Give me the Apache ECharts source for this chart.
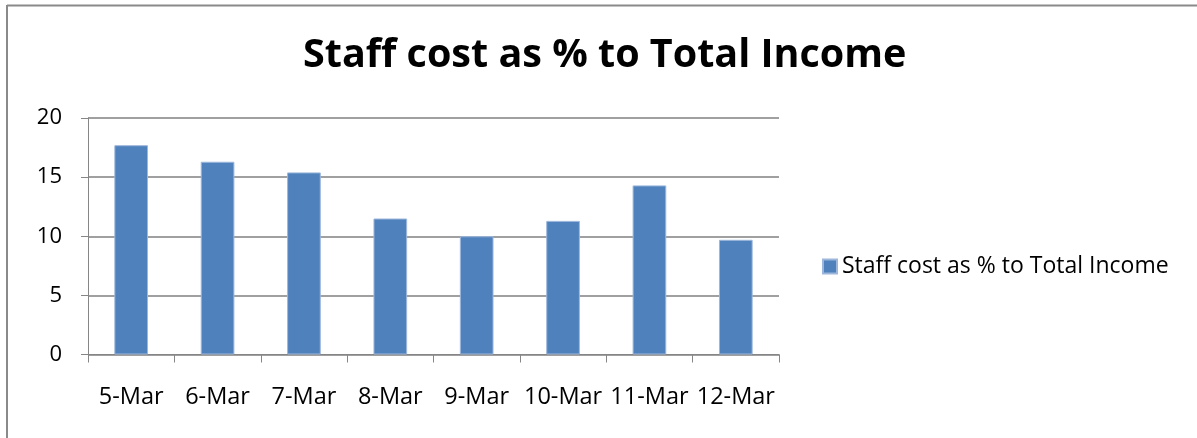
<!DOCTYPE html>
<html>
<head>
<meta charset="utf-8">
<script src="https://cdn.jsdelivr.net/npm/echarts@6/dist/echarts.min.js"></script>
<style>
html,body{margin:0;padding:0;background:#fff;}
#chart{width:1197px;height:438px;}
</style>
</head>
<body>
<div id="chart"></div>
<script>
const categories = ['5-Mar','6-Mar','7-Mar','8-Mar','9-Mar','10-Mar','11-Mar','12-Mar'];
const seriesName = 'Staff cost as % to Total Income';
const values = [17.7, 16.3, 15.4, 11.5, 10.0, 11.3, 14.3, 9.7];
const titleText = 'Staff cost as % to Total Income';
const yTicks = { min: 0, max: 20, interval: 5 };

const chart = echarts.init(document.getElementById('chart'));
const FONT = 'Open Sans';
chart.setOption({
  animation: false,
  backgroundColor: '#fff',
  graphic: [
    { type: 'line', shape: { x1: 7, y1: 5.5, x2: 1197, y2: 5.5 }, style: { stroke: '#8a8a8a', lineWidth: 2 } },
    { type: 'line', shape: { x1: 7, y1: 5, x2: 7, y2: 438 }, style: { stroke: '#8a8a8a', lineWidth: 2 } }
  ],
  title: {
    text: titleText,
    left: 298,
    top: 31,
    padding: 5,
    textStyle: { fontFamily: FONT, fontWeight: 'bold', fontSize: 39.5, color: '#000' }
  },
  legend: {
    data: [seriesName],
    orient: 'vertical',
    left: 817,
    top: 250,
    itemWidth: 14,
    itemHeight: 14,
    icon: 'rect',
    textStyle: { fontFamily: FONT, fontSize: 23, color: '#000' }
  },
  grid: { left: 88, right: 418, top: 118, bottom: 83.5, containLabel: false },
  xAxis: {
    type: 'category',
    data: categories,
    axisLine: { lineStyle: { color: '#868686', width: 1 } },
    axisTick: { show: true, length: 8, alignWithLabel: false, lineStyle: { color: '#868686' } },
    axisLabel: { fontFamily: FONT, fontSize: 23.5, color: '#000', margin: 31, interval: 0 }
  },
  yAxis: {
    type: 'value',
    min: yTicks.min, max: yTicks.max, interval: yTicks.interval,
    axisLine: { show: true, lineStyle: { color: '#868686', width: 1 } },
    axisTick: { show: true, length: 7, lineStyle: { color: '#868686' } },
    axisLabel: { fontFamily: FONT, fontSize: 22, color: '#000', margin: 26 },
    splitLine: { show: true, lineStyle: { color: '#808080', width: 1.5 } }
  },
  series: [{
    name: seriesName,
    type: 'bar',
    data: values,
    barCategoryGap: '61%',
    itemStyle: { color: '#4F81BD', borderColor: '#9db7dc', borderWidth: 1 }
  }]
});
</script>
</body>
</html>
